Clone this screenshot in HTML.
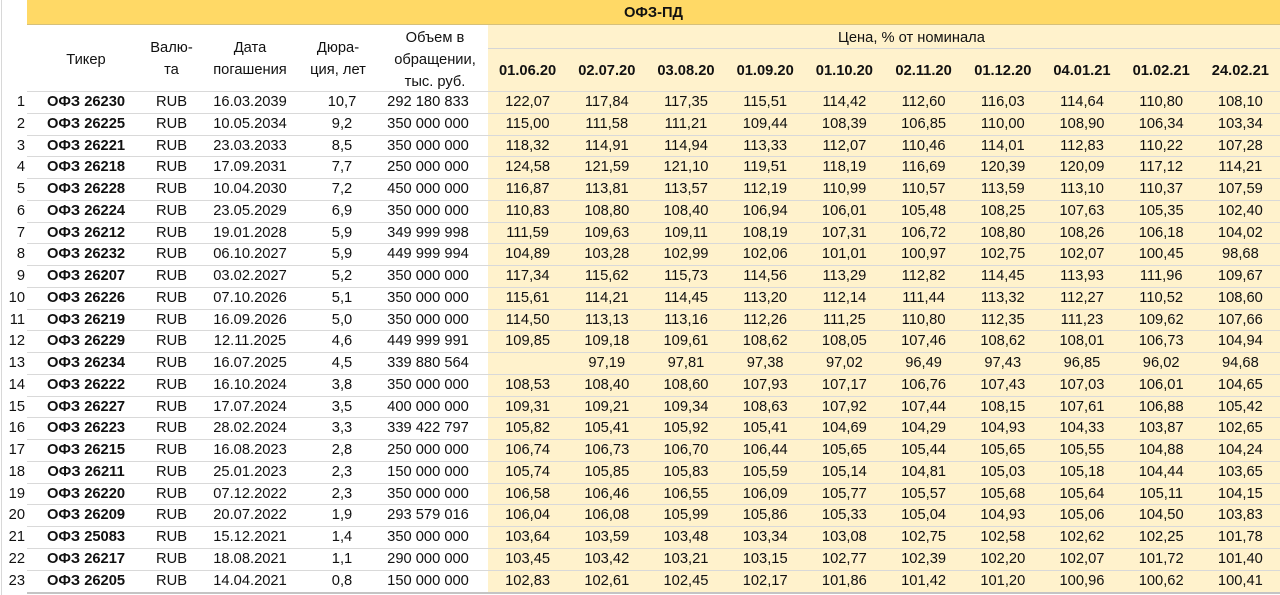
<!DOCTYPE html>
<html><head><meta charset="utf-8"><style>
html,body{margin:0;padding:0;background:#fff;width:1280px;height:595px;overflow:hidden;}
body{position:relative;font-family:"Liberation Sans","DejaVu Sans",sans-serif;font-size:14.7px;color:#111;}
.abs{position:absolute;}
.bar{left:27px;top:0;width:1253px;height:24px;background:#FFD966;border-bottom:1px solid #d6c07a;}
.ylw{left:488px;top:25px;width:792px;height:568px;background:#FFF2CC;}
.vline{left:1px;top:0;width:1px;height:595px;background:#d8d8d8;}
.hl{height:1px;background:#d6d6d6;}
.c{position:absolute;text-align:center;white-space:nowrap;line-height:22px;}
.r{position:absolute;top:0;height:21.75px;left:0;width:1280px;}
.r span{position:absolute;top:0;line-height:21.75px;text-align:center;white-space:nowrap;}
.r .n{left:0;width:25px;text-align:right;}
.r .t{left:27px;width:118px;font-weight:bold;}
.r .u{left:145px;width:53px;}
.r .d{left:198px;width:104px;}
.r .du{left:302px;width:80px;}
.r .v{left:382px;width:92px;}
.r .p0{left:488px;width:79.2px}.r .p1{left:567.2px;width:79.2px}.r .p2{left:646.4px;width:79.2px}.r .p3{left:725.6px;width:79.2px}.r .p4{left:804.8px;width:79.2px}
.r .p5{left:884px;width:79.2px}.r .p6{left:963.2px;width:79.2px}.r .p7{left:1042.4px;width:79.2px}.r .p8{left:1121.6px;width:79.2px}.r .p9{left:1200.8px;width:79.2px}
.rl{position:absolute;left:27px;width:1253px;height:1px;background:#d9d9d9;}
.dh{position:absolute;top:60px;line-height:22px;width:79.2px;text-align:center;font-weight:bold;}
</style></head><body>
<div class="abs vline"></div>
<div class="abs ylw"></div>
<div class="abs bar"></div>
<div class="c" style="left:27px;width:1253px;top:2px;font-weight:bold;">ОФЗ-ПД</div>

<div class="c" style="left:838px;top:27px;">Цена, % от номинала</div>
<div class="abs hl" style="left:488px;top:48px;width:792px;"></div>

<div class="c" style="left:27px;width:118px;top:49px;">Тикер</div>
<div class="c" style="left:145px;width:53px;top:37px;">Валю-<br>та</div>
<div class="c" style="left:198px;width:104px;top:37px;">Дата<br>погашения</div>
<div class="c" style="left:298px;width:80px;top:37px;">Дюра-<br>ция, лет</div>
<div class="c" style="left:382px;width:106px;top:27px;">Объем в<br>обращении,<br>тыс. руб.</div>

<div class="dh" style="left:488px;">01.06.20</div>
<div class="dh" style="left:567.2px;">02.07.20</div>
<div class="dh" style="left:646.4px;">03.08.20</div>
<div class="dh" style="left:725.6px;">01.09.20</div>
<div class="dh" style="left:804.8px;">01.10.20</div>
<div class="dh" style="left:884px;">02.11.20</div>
<div class="dh" style="left:963.2px;">01.12.20</div>
<div class="dh" style="left:1042.4px;">04.01.21</div>
<div class="dh" style="left:1121.6px;">01.02.21</div>
<div class="dh" style="left:1200.8px;">24.02.21</div>

<div class="rl" style="top:91px;"></div>
<div class="rl" style="top:113px;"></div>
<div class="rl" style="top:135px;"></div>
<div class="rl" style="top:156px;"></div>
<div class="rl" style="top:178px;"></div>
<div class="rl" style="top:200px;"></div>
<div class="rl" style="top:222px;"></div>
<div class="rl" style="top:243px;"></div>
<div class="rl" style="top:265px;"></div>
<div class="rl" style="top:287px;"></div>
<div class="rl" style="top:309px;"></div>
<div class="rl" style="top:330px;"></div>
<div class="rl" style="top:352px;"></div>
<div class="rl" style="top:374px;"></div>
<div class="rl" style="top:396px;"></div>
<div class="rl" style="top:417px;"></div>
<div class="rl" style="top:439px;"></div>
<div class="rl" style="top:461px;"></div>
<div class="rl" style="top:483px;"></div>
<div class="rl" style="top:504px;"></div>
<div class="rl" style="top:526px;"></div>
<div class="rl" style="top:548px;"></div>
<div class="rl" style="top:570px;"></div>
<div class="rl" style="top:592px;height:2px;background:#c4c4c4;"></div>

<div class="r" style="top:92px"><span class="n">1</span><span class="t">ОФЗ 26230</span><span class="u">RUB</span><span class="d">16.03.2039</span><span class="du">10,7</span><span class="v">292 180 833</span><span class="p0">122,07</span><span class="p1">117,84</span><span class="p2">117,35</span><span class="p3">115,51</span><span class="p4">114,42</span><span class="p5">112,60</span><span class="p6">116,03</span><span class="p7">114,64</span><span class="p8">110,80</span><span class="p9">108,10</span></div>
<div class="r" style="top:113.75px"><span class="n">2</span><span class="t">ОФЗ 26225</span><span class="u">RUB</span><span class="d">10.05.2034</span><span class="du">9,2</span><span class="v">350 000 000</span><span class="p0">115,00</span><span class="p1">111,58</span><span class="p2">111,21</span><span class="p3">109,44</span><span class="p4">108,39</span><span class="p5">106,85</span><span class="p6">110,00</span><span class="p7">108,90</span><span class="p8">106,34</span><span class="p9">103,34</span></div>
<div class="r" style="top:135.5px"><span class="n">3</span><span class="t">ОФЗ 26221</span><span class="u">RUB</span><span class="d">23.03.2033</span><span class="du">8,5</span><span class="v">350 000 000</span><span class="p0">118,32</span><span class="p1">114,91</span><span class="p2">114,94</span><span class="p3">113,33</span><span class="p4">112,07</span><span class="p5">110,46</span><span class="p6">114,01</span><span class="p7">112,83</span><span class="p8">110,22</span><span class="p9">107,28</span></div>
<div class="r" style="top:157.25px"><span class="n">4</span><span class="t">ОФЗ 26218</span><span class="u">RUB</span><span class="d">17.09.2031</span><span class="du">7,7</span><span class="v">250 000 000</span><span class="p0">124,58</span><span class="p1">121,59</span><span class="p2">121,10</span><span class="p3">119,51</span><span class="p4">118,19</span><span class="p5">116,69</span><span class="p6">120,39</span><span class="p7">120,09</span><span class="p8">117,12</span><span class="p9">114,21</span></div>
<div class="r" style="top:179px"><span class="n">5</span><span class="t">ОФЗ 26228</span><span class="u">RUB</span><span class="d">10.04.2030</span><span class="du">7,2</span><span class="v">450 000 000</span><span class="p0">116,87</span><span class="p1">113,81</span><span class="p2">113,57</span><span class="p3">112,19</span><span class="p4">110,99</span><span class="p5">110,57</span><span class="p6">113,59</span><span class="p7">113,10</span><span class="p8">110,37</span><span class="p9">107,59</span></div>
<div class="r" style="top:200.75px"><span class="n">6</span><span class="t">ОФЗ 26224</span><span class="u">RUB</span><span class="d">23.05.2029</span><span class="du">6,9</span><span class="v">350 000 000</span><span class="p0">110,83</span><span class="p1">108,80</span><span class="p2">108,40</span><span class="p3">106,94</span><span class="p4">106,01</span><span class="p5">105,48</span><span class="p6">108,25</span><span class="p7">107,63</span><span class="p8">105,35</span><span class="p9">102,40</span></div>
<div class="r" style="top:222.5px"><span class="n">7</span><span class="t">ОФЗ 26212</span><span class="u">RUB</span><span class="d">19.01.2028</span><span class="du">5,9</span><span class="v">349 999 998</span><span class="p0">111,59</span><span class="p1">109,63</span><span class="p2">109,11</span><span class="p3">108,19</span><span class="p4">107,31</span><span class="p5">106,72</span><span class="p6">108,80</span><span class="p7">108,26</span><span class="p8">106,18</span><span class="p9">104,02</span></div>
<div class="r" style="top:244.25px"><span class="n">8</span><span class="t">ОФЗ 26232</span><span class="u">RUB</span><span class="d">06.10.2027</span><span class="du">5,9</span><span class="v">449 999 994</span><span class="p0">104,89</span><span class="p1">103,28</span><span class="p2">102,99</span><span class="p3">102,06</span><span class="p4">101,01</span><span class="p5">100,97</span><span class="p6">102,75</span><span class="p7">102,07</span><span class="p8">100,45</span><span class="p9">98,68</span></div>
<div class="r" style="top:266px"><span class="n">9</span><span class="t">ОФЗ 26207</span><span class="u">RUB</span><span class="d">03.02.2027</span><span class="du">5,2</span><span class="v">350 000 000</span><span class="p0">117,34</span><span class="p1">115,62</span><span class="p2">115,73</span><span class="p3">114,56</span><span class="p4">113,29</span><span class="p5">112,82</span><span class="p6">114,45</span><span class="p7">113,93</span><span class="p8">111,96</span><span class="p9">109,67</span></div>
<div class="r" style="top:287.75px"><span class="n">10</span><span class="t">ОФЗ 26226</span><span class="u">RUB</span><span class="d">07.10.2026</span><span class="du">5,1</span><span class="v">350 000 000</span><span class="p0">115,61</span><span class="p1">114,21</span><span class="p2">114,45</span><span class="p3">113,20</span><span class="p4">112,14</span><span class="p5">111,44</span><span class="p6">113,32</span><span class="p7">112,27</span><span class="p8">110,52</span><span class="p9">108,60</span></div>
<div class="r" style="top:309.5px"><span class="n">11</span><span class="t">ОФЗ 26219</span><span class="u">RUB</span><span class="d">16.09.2026</span><span class="du">5,0</span><span class="v">350 000 000</span><span class="p0">114,50</span><span class="p1">113,13</span><span class="p2">113,16</span><span class="p3">112,26</span><span class="p4">111,25</span><span class="p5">110,80</span><span class="p6">112,35</span><span class="p7">111,23</span><span class="p8">109,62</span><span class="p9">107,66</span></div>
<div class="r" style="top:331.25px"><span class="n">12</span><span class="t">ОФЗ 26229</span><span class="u">RUB</span><span class="d">12.11.2025</span><span class="du">4,6</span><span class="v">449 999 991</span><span class="p0">109,85</span><span class="p1">109,18</span><span class="p2">109,61</span><span class="p3">108,62</span><span class="p4">108,05</span><span class="p5">107,46</span><span class="p6">108,62</span><span class="p7">108,01</span><span class="p8">106,73</span><span class="p9">104,94</span></div>
<div class="r" style="top:353px"><span class="n">13</span><span class="t">ОФЗ 26234</span><span class="u">RUB</span><span class="d">16.07.2025</span><span class="du">4,5</span><span class="v">339 880 564</span><span class="p1">97,19</span><span class="p2">97,81</span><span class="p3">97,38</span><span class="p4">97,02</span><span class="p5">96,49</span><span class="p6">97,43</span><span class="p7">96,85</span><span class="p8">96,02</span><span class="p9">94,68</span></div>
<div class="r" style="top:374.75px"><span class="n">14</span><span class="t">ОФЗ 26222</span><span class="u">RUB</span><span class="d">16.10.2024</span><span class="du">3,8</span><span class="v">350 000 000</span><span class="p0">108,53</span><span class="p1">108,40</span><span class="p2">108,60</span><span class="p3">107,93</span><span class="p4">107,17</span><span class="p5">106,76</span><span class="p6">107,43</span><span class="p7">107,03</span><span class="p8">106,01</span><span class="p9">104,65</span></div>
<div class="r" style="top:396.5px"><span class="n">15</span><span class="t">ОФЗ 26227</span><span class="u">RUB</span><span class="d">17.07.2024</span><span class="du">3,5</span><span class="v">400 000 000</span><span class="p0">109,31</span><span class="p1">109,21</span><span class="p2">109,34</span><span class="p3">108,63</span><span class="p4">107,92</span><span class="p5">107,44</span><span class="p6">108,15</span><span class="p7">107,61</span><span class="p8">106,88</span><span class="p9">105,42</span></div>
<div class="r" style="top:418.25px"><span class="n">16</span><span class="t">ОФЗ 26223</span><span class="u">RUB</span><span class="d">28.02.2024</span><span class="du">3,3</span><span class="v">339 422 797</span><span class="p0">105,82</span><span class="p1">105,41</span><span class="p2">105,92</span><span class="p3">105,41</span><span class="p4">104,69</span><span class="p5">104,29</span><span class="p6">104,93</span><span class="p7">104,33</span><span class="p8">103,87</span><span class="p9">102,65</span></div>
<div class="r" style="top:440px"><span class="n">17</span><span class="t">ОФЗ 26215</span><span class="u">RUB</span><span class="d">16.08.2023</span><span class="du">2,8</span><span class="v">250 000 000</span><span class="p0">106,74</span><span class="p1">106,73</span><span class="p2">106,70</span><span class="p3">106,44</span><span class="p4">105,65</span><span class="p5">105,44</span><span class="p6">105,65</span><span class="p7">105,55</span><span class="p8">104,88</span><span class="p9">104,24</span></div>
<div class="r" style="top:461.75px"><span class="n">18</span><span class="t">ОФЗ 26211</span><span class="u">RUB</span><span class="d">25.01.2023</span><span class="du">2,3</span><span class="v">150 000 000</span><span class="p0">105,74</span><span class="p1">105,85</span><span class="p2">105,83</span><span class="p3">105,59</span><span class="p4">105,14</span><span class="p5">104,81</span><span class="p6">105,03</span><span class="p7">105,18</span><span class="p8">104,44</span><span class="p9">103,65</span></div>
<div class="r" style="top:483.5px"><span class="n">19</span><span class="t">ОФЗ 26220</span><span class="u">RUB</span><span class="d">07.12.2022</span><span class="du">2,3</span><span class="v">350 000 000</span><span class="p0">106,58</span><span class="p1">106,46</span><span class="p2">106,55</span><span class="p3">106,09</span><span class="p4">105,77</span><span class="p5">105,57</span><span class="p6">105,68</span><span class="p7">105,64</span><span class="p8">105,11</span><span class="p9">104,15</span></div>
<div class="r" style="top:505.25px"><span class="n">20</span><span class="t">ОФЗ 26209</span><span class="u">RUB</span><span class="d">20.07.2022</span><span class="du">1,9</span><span class="v">293 579 016</span><span class="p0">106,04</span><span class="p1">106,08</span><span class="p2">105,99</span><span class="p3">105,86</span><span class="p4">105,33</span><span class="p5">105,04</span><span class="p6">104,93</span><span class="p7">105,06</span><span class="p8">104,50</span><span class="p9">103,83</span></div>
<div class="r" style="top:527px"><span class="n">21</span><span class="t">ОФЗ 25083</span><span class="u">RUB</span><span class="d">15.12.2021</span><span class="du">1,4</span><span class="v">350 000 000</span><span class="p0">103,64</span><span class="p1">103,59</span><span class="p2">103,48</span><span class="p3">103,34</span><span class="p4">103,08</span><span class="p5">102,75</span><span class="p6">102,58</span><span class="p7">102,62</span><span class="p8">102,25</span><span class="p9">101,78</span></div>
<div class="r" style="top:548.75px"><span class="n">22</span><span class="t">ОФЗ 26217</span><span class="u">RUB</span><span class="d">18.08.2021</span><span class="du">1,1</span><span class="v">290 000 000</span><span class="p0">103,45</span><span class="p1">103,42</span><span class="p2">103,21</span><span class="p3">103,15</span><span class="p4">102,77</span><span class="p5">102,39</span><span class="p6">102,20</span><span class="p7">102,07</span><span class="p8">101,72</span><span class="p9">101,40</span></div>
<div class="r" style="top:570.5px"><span class="n">23</span><span class="t">ОФЗ 26205</span><span class="u">RUB</span><span class="d">14.04.2021</span><span class="du">0,8</span><span class="v">150 000 000</span><span class="p0">102,83</span><span class="p1">102,61</span><span class="p2">102,45</span><span class="p3">102,17</span><span class="p4">101,86</span><span class="p5">101,42</span><span class="p6">101,20</span><span class="p7">100,96</span><span class="p8">100,62</span><span class="p9">100,41</span></div>
</body></html>
